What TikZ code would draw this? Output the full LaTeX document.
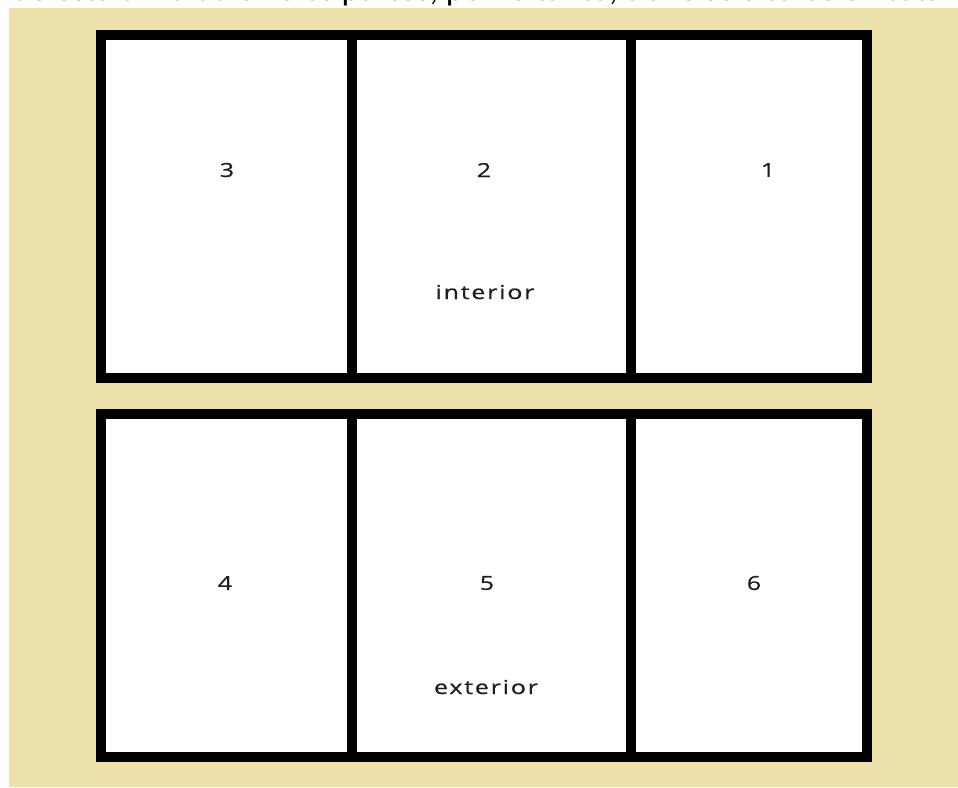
\documentclass[tikz,border=0pt]{standalone}
\usepackage{fontspec}
\usepackage{xcolor}
\newfontfamily\lblfont[FakeStretch=1.3,LetterSpace=9,FakeBold=0.6]{Open Sans}
\newfontfamily\capfont{Carlito}
\definecolor{paper}{RGB}{237,225,171}
\definecolor{ink}{RGB}{30,30,30}

\begin{document}
\begin{tikzpicture}[x=0.2mm,y=-0.2mm,
      wall/.style={draw=black,line width=5.7pt,fill=white},
      lbl/.style={text=ink,inner sep=0pt,font=\lblfont\fontsize{11}{13}\selectfont}]
    \useasboundingbox (0,0) rectangle (958,787);
    \clip (0,0) rectangle (958,787);
    \fill[paper] (9,8) rectangle (958,787);
    % cut line of text above the picture
    \node[anchor=base east,inner sep=0pt,text=black,
          font=\capfont\fontsize{19.5}{22}\selectfont] (caption) at (951,0)
          {de está dividida en tres partes, por lo tanto, tiene seis caras en total};
    % two halves, three faces each
    \foreach \y/\yy in {35/378,414/757} {
      \draw[wall] (101,\y) rectangle (867,\yy);
      \foreach \x in {352,631} {
        \draw[wall] (\x,\y) -- (\x,\yy);
      }
    }
    \node[lbl] (f3) at (227,170) {3};
    \node[lbl] (f2) at (484,170) {2};
    \node[lbl] (f1) at (768,170) {1};
    \node[lbl] (inside) at (485,292) {interior};
    \node[lbl] (f4) at (225,583) {4};
    \node[lbl] (f5) at (487,583) {5};
    \node[lbl] (f6) at (754,583) {6};
    \node[lbl] (outside) at (486,687) {exterior};
  \end{tikzpicture}
\end{document}
